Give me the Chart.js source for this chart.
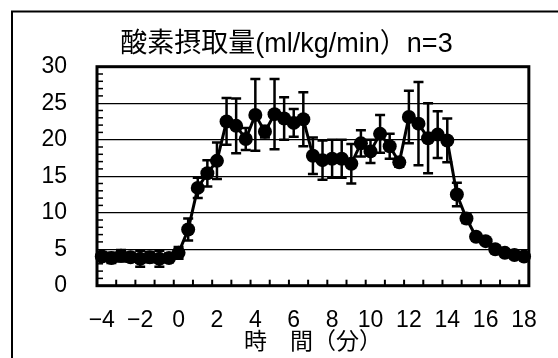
<!DOCTYPE html>
<html>
<head>
<meta charset="utf-8">
<script src="https://cdn.jsdelivr.net/npm/chart.js@4"></script>
<style>
  html, body { margin: 0; padding: 0; background: #fff; }
  #wrap { width: 558px; height: 358px; }
</style>
</head>
<body>
<div id="wrap"><canvas id="vo2Chart" width="558" height="358"></canvas></div>
<script>
// --- data ---
const times = [-4, -3.5, -3, -2.5, -2, -1.5, -1, -0.5, 0, 0.5, 1, 1.5, 2, 2.5, 3, 3.5, 4, 4.5, 5, 5.5,
               6, 6.5, 7, 7.5, 8, 8.5, 9, 9.5, 10, 10.5, 11, 11.5, 12, 12.5, 13, 13.5, 14, 14.5, 15, 15.5,
               16, 16.5, 17, 17.5, 18];
const vo2 = [4.0, 3.8, 4.1, 3.9, 3.7, 3.9, 3.7, 3.8, 4.5, 7.7, 13.4, 15.4, 17.1, 22.5, 21.9, 20.1, 23.4, 21.1, 23.5, 22.9,
             22.3, 22.8, 17.8, 17.2, 17.4, 17.4, 16.7, 19.5, 18.4, 20.8, 19.1, 16.9, 23.1, 22.2, 20.2, 20.7, 19.9, 12.5, 9.2, 6.7,
             6.1, 5.0, 4.5, 4.2, 4.0];
const vo2Err = [0.6, 0.7, 0.8, 0.6, 1.1, 0.7, 1.1, 0.6, 0.8, 1.5, 1.4, 1.8, 2.5, 3.2, 3.75, 1.5, 4.9, 0.8, 4.8, 2.9,
                1.9, 3.7, 2.5, 2.7, 2.6, 2.6, 2.7, 1.8, 1.6, 2.6, 1.7, 0.6, 3.6, 5.7, 4.8, 3.2, 3.0, 1.6, 0.6, 0.5,
                0.4, 0.4, 0.3, 0.3, 0.3];
const xTickLabels = [-4, -2, 0, 2, 4, 6, 8, 10, 12, 14, 16, 18];
const xTickMarks = [-3.25, -2.25, -1.25, -0.25, 0.75, 1.75, 2.75, 3.75, 4.75, 5.75, 6.75, 7.75, 8.75,
                    9.75, 10.75, 11.75, 12.75, 13.75, 14.75, 15.75, 16.75, 17.75];
const yMinorTicks = [1, 2, 3, 4, 6, 7, 8, 9, 11, 12, 13, 14, 16, 17, 18, 19, 21, 22, 23, 24, 26, 27, 28, 29];

const FONT = "'Liberation Sans', 'Noto Sans CJK JP', sans-serif";

// --- plugins: outer frame, plot frame, inward ticks, error bars ---
const framePlugin = {
    id: 'frame',
    beforeDraw(chart) {
        const c = chart.ctx;
        c.save();
        c.strokeStyle = '#000';
        c.lineWidth = 2;
        c.beginPath();
        c.moveTo(12, 400);
        c.lineTo(12, 11.5);
        c.lineTo(600, 11.5);
        c.stroke();
        c.restore();
    },
    beforeDatasetsDraw(chart) {
        const c = chart.ctx;
        const a = chart.chartArea;
        const xs = chart.scales.x, ys = chart.scales.y;
        c.save();
        c.strokeStyle = '#000';
        // minor ticks on the y axis, pointing inward
        c.lineWidth = 1.5;
        yMinorTicks.forEach(v => {
            const y = ys.getPixelForValue(v);
            c.beginPath();
            c.moveTo(a.left, y);
            c.lineTo(a.left + 6, y);
            c.stroke();
        });
        // tick marks on the x axis, pointing inward
        c.lineWidth = 2;
        xTickMarks.forEach(v => {
            const x = xs.getPixelForValue(v);
            c.beginPath();
            c.moveTo(x, a.bottom);
            c.lineTo(x, a.bottom - 6);
            c.stroke();
        });
        // plot border
        c.lineWidth = 3;
        c.strokeRect(a.left, a.top, a.right - a.left, a.bottom - a.top);

        // error bars
        c.lineWidth = 2.5;
        times.forEach((t, i) => {
            const x = xs.getPixelForValue(t);
            const yTop = ys.getPixelForValue(vo2[i] + vo2Err[i]);
            const yBot = ys.getPixelForValue(vo2[i] - vo2Err[i]);
            c.beginPath();
            c.moveTo(x, yTop);
            c.lineTo(x, yBot);
            c.moveTo(x - 5, yTop);
            c.lineTo(x + 5, yTop);
            c.moveTo(x - 5, yBot);
            c.lineTo(x + 5, yBot);
            c.stroke();
        });
        c.restore();
    }
};

// --- chart ---
const ctx = document.getElementById('vo2Chart').getContext('2d');
const vo2Chart = new Chart(ctx, {
    type: 'line',
    data: {
        datasets: [{
            label: 'VO2',
            data: times.map((t, i) => ({ x: t, y: vo2[i] })),
            borderColor: '#000',
            borderWidth: 3,
            backgroundColor: '#000',
            pointRadius: 7,
            pointBackgroundColor: '#000',
            pointBorderWidth: 0,
            tension: 0,
            clip: false
        }]
    },
    options: {
        responsive: false,
        animation: false,
        devicePixelRatio: 1,
        layout: { padding: { left: 30, right: 15, top: 0, bottom: 0 } },
        scales: {
            x: {
                type: 'linear',
                min: -4.25,
                max: 18.25,
                afterBuildTicks: axis => { axis.ticks = xTickLabels.map(v => ({ value: v })); },
                afterFit: axis => { axis.height = 72.3; },
                grid: { display: false, drawTicks: false },
                border: { display: false },
                ticks: {
                    autoSkip: false,
                    maxRotation: 0,
                    padding: 21,
                    color: '#000',
                    font: { family: FONT, size: 23 },
                    callback: v => String(v).replace('-', '\u2212')
                },
                title: {
                    display: true,
                    text: '時　間（分）',
                    color: '#000',
                    font: { family: FONT, size: 23 },
                    padding: { top: 0, bottom: 2 }
                }
            },
            y: {
                min: 0,
                max: 30,
                afterFit: axis => { axis.width = 67; },
                grid: { color: '#000', lineWidth: 1.3, drawTicks: false },
                border: { display: false },
                ticks: {
                    stepSize: 5,
                    padding: 30,
                    color: '#000',
                    font: { family: FONT, size: 23 }
                }
            }
        },
        plugins: {
            legend: { display: false },
            tooltip: { enabled: false },
            title: {
                display: true,
                text: '酸素摂取量(ml/kg/min）n=3',
                color: '#000',
                font: { family: FONT, size: 27, weight: 'normal' },
                padding: { top: 28, bottom: 6.3 }
            }
        }
    },
    plugins: [framePlugin]
});
</script>
</body>
</html>
